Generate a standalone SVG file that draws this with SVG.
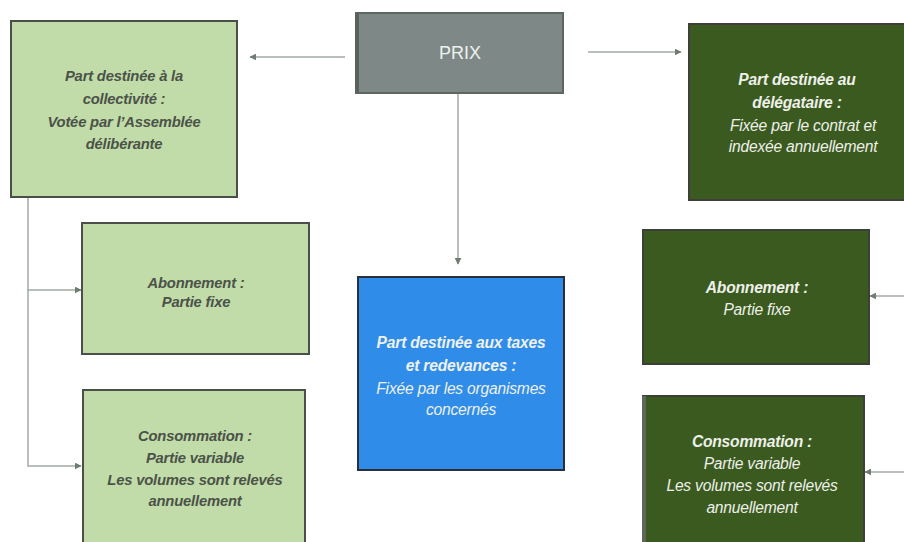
<svg xmlns="http://www.w3.org/2000/svg" width="904" height="542" viewBox="0 0 904 542">
  <defs>
    <marker id="arr" viewBox="0 0 10 10" refX="9" refY="5" markerWidth="7" markerHeight="7" orient="auto" markerUnits="userSpaceOnUse">
      <path d="M0,0 L10,5 L0,10 z" fill="#6f7c72"/>
    </marker>
    <style>
      .conn { fill: none; stroke: #a3aaa4; stroke-width: 1.5; }
      .light { fill: #c1dca9; stroke: #4a4f4a; stroke-width: 2; }
      .dark { fill: #3b5a1f; stroke: #3d4038; stroke-width: 2; }
      .blue { fill: #2f8de9; stroke: #283040; stroke-width: 2; }
      .prix { fill: #7e8987; stroke: #5e6662; stroke-width: 2; }
      text { font-family: "Liberation Sans", Arial, sans-serif; text-anchor: middle; }
      .tl { fill: #4b5248; font-style: italic; font-weight: bold; font-size: 14.8px; letter-spacing: -0.2px; }
      .td { fill: #eef0ea; font-style: italic; font-size: 15.6px; letter-spacing: -0.2px; }
      .b { font-weight: bold; }
    </style>
  </defs>
  <rect width="904" height="542" fill="#ffffff"/>

  <g id="connectors">
    <line class="conn" x1="345" y1="57" x2="250" y2="57" marker-end="url(#arr)"/>
    <line class="conn" x1="588" y1="52" x2="681" y2="52" marker-end="url(#arr)"/>
    <line class="conn" x1="458" y1="94" x2="458" y2="264" marker-end="url(#arr)"/>
    <polyline class="conn" points="28,197 28,290 81,290" marker-end="url(#arr)"/>
    <polyline class="conn" points="28,290 28,466 81,466" marker-end="url(#arr)"/>
    <line class="conn" x1="904" y1="296" x2="870" y2="296" marker-end="url(#arr)"/>
    <line class="conn" x1="904" y1="472" x2="865" y2="472" marker-end="url(#arr)"/>
  </g>

  <g id="prix">
    <rect class="prix" x="356" y="13" width="207" height="80"/>
    <rect x="355" y="13" width="4" height="80" fill="#5a625e"/>
    <text x="460" y="59" style="fill:#eef0ee;font-size:18px;">PRIX</text>
  </g>

  <g id="collectivite">
    <rect class="light" x="11" y="21" width="226" height="176"/>
    <text class="tl" x="124" y="81">Part destinée à la</text>
    <text class="tl" x="124" y="104">collectivité :</text>
    <text class="tl" x="124" y="127">Votée par l’Assemblée</text>
    <text class="tl" x="124" y="149">délibérante</text>
  </g>

  <g id="delegataire">
    <rect class="dark" x="689" y="24" width="216" height="176"/>
    <text class="td b" x="797" y="85">Part destinée au</text>
    <text class="td b" x="797" y="108">délégataire :</text>
    <text class="td" x="803" y="131">Fixée par le contrat et</text>
    <text class="td" x="803" y="152">indexée annuellement</text>
  </g>

  <g id="taxes">
    <rect class="blue" x="358" y="277" width="206" height="193"/>
    <text class="td b" x="461" y="348">Part destinée aux taxes</text>
    <text class="td b" x="461" y="371">et redevances :</text>
    <text class="td" x="461" y="394">Fixée par les organismes</text>
    <text class="td" x="461" y="415">concernés</text>
  </g>

  <g id="abonnement-collectivite">
    <rect class="light" x="82" y="223" width="227" height="131"/>
    <text class="tl" x="196" y="288">Abonnement :</text>
    <text class="tl" x="196" y="307">Partie fixe</text>
  </g>

  <g id="consommation-collectivite">
    <rect class="light" x="83" y="390" width="222" height="160"/>
    <text class="tl" x="195" y="441">Consommation :</text>
    <text class="tl" x="195" y="463">Partie variable</text>
    <text class="tl" x="195" y="485">Les volumes sont relevés</text>
    <text class="tl" x="195" y="506">annuellement</text>
  </g>

  <g id="abonnement-delegataire">
    <rect class="dark" x="643" y="230" width="226" height="134"/>
    <text class="td b" x="757" y="293">Abonnement :</text>
    <text class="td" x="757" y="315">Partie fixe</text>
  </g>

  <g id="consommation-delegataire">
    <rect class="dark" x="643" y="396" width="221" height="154"/>
    <rect x="642" y="396" width="4" height="154" fill="#5f665c"/>
    <text class="td b" x="752" y="447">Consommation :</text>
    <text class="td" x="752" y="469">Partie variable</text>
    <text class="td" x="752" y="491">Les volumes sont relevés</text>
    <text class="td" x="752" y="513">annuellement</text>
  </g>
</svg>
